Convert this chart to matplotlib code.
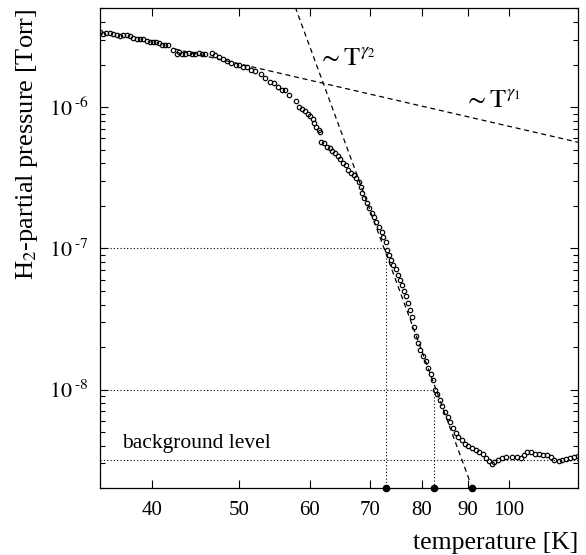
import matplotlib
matplotlib.use("Agg")
import matplotlib.pyplot as plt
from matplotlib.ticker import FixedLocator, NullLocator, LogLocator, NullFormatter

plt.rcParams['font.family'] = ['Liberation Serif', 'DejaVu Serif']
plt.rcParams['mathtext.fontset'] = 'stix'

temperature = [
    35.0, 35.29, 35.59, 35.90, 36.21, 36.52, 36.84, 37.15, 37.47, 37.80,
    38.12, 38.45, 38.78, 39.12, 39.45, 39.80, 40.13, 40.47, 40.76, 41.04,
    41.39, 41.68, 42.25, 42.61, 42.91, 43.21, 43.58, 43.95, 44.33, 44.71,
    45.09, 45.49, 45.88,
    46.68, 47.08, 47.57, 48.06, 48.47, 49.06, 49.65, 50.08, 50.60, 51.03,
    51.65, 52.18, 52.90, 53.45, 54.19, 54.75, 55.32, 55.89, 56.37, 56.95,
    57.94, 58.43,
    58.84, 59.23, 59.65, 60.06, 60.46, 60.68, 61.00, 61.40, 61.63, 61.83,
    62.27, 62.68, 63.12, 63.56, 63.98, 64.43, 64.88, 65.31, 65.77, 66.23,
    66.67, 67.14, 67.61, 68.07, 68.42,
    68.54, 69.01, 69.48, 69.84, 70.32, 70.69, 71.18, 71.66, 72.16, 72.40,
    72.90, 73.15, 73.53, 73.91, 74.29, 74.80, 75.19, 75.57, 75.96, 76.36,
    76.76, 77.15, 77.55, 77.95,
    78.49, 78.90, 79.30, 79.71, 80.25, 80.81, 81.37, 81.92, 82.34, 82.77,
    83.19, 83.77, 84.35, 84.92, 85.51, 86.11, 86.69, 87.29, 87.90, 88.64,
    89.40, 90.19, 91.12, 92.06, 92.68,
    93.63, 94.45, 95.08, 95.74, 96.41, 97.41, 98.42, 99.43, 100.8, 102.2,
    103.1, 104.0, 104.7, 105.8, 106.9, 108.0, 109.1, 110.4, 111.4, 112.5,
    113.7, 114.8, 116.0, 117.2, 118.4, 119.4,
]
pressure = [
    3.38e-6, 3.31e-6, 3.35e-6, 3.35e-6, 3.31e-6, 3.24e-6, 3.17e-6, 3.24e-6, 3.24e-6, 3.17e-6,
    3.07e-6, 3.03e-6, 3.03e-6, 3.03e-6, 2.94e-6, 2.90e-6, 2.90e-6, 2.90e-6, 2.84e-6, 2.75e-6,
    2.75e-6, 2.75e-6, 2.55e-6, 2.36e-6, 2.47e-6, 2.36e-6, 2.39e-6, 2.42e-6, 2.36e-6, 2.39e-6,
    2.42e-6, 2.36e-6, 2.36e-6,
    2.43e-6, 2.32e-6, 2.25e-6, 2.18e-6, 2.13e-6, 2.04e-6, 2.00e-6, 2.00e-6, 1.93e-6, 1.91e-6,
    1.83e-6, 1.81e-6, 1.71e-6, 1.61e-6, 1.50e-6, 1.47e-6, 1.39e-6, 1.31e-6, 1.32e-6, 1.21e-6,
    1.11e-6, 1.005e-6,
    9.68e-7, 9.37e-7, 8.86e-7, 8.68e-7, 8.22e-7, 7.70e-7, 7.21e-7, 6.90e-7, 6.61e-7, 5.67e-7,
    5.55e-7, 5.25e-7, 5.09e-7, 4.92e-7, 4.72e-7, 4.52e-7, 4.32e-7, 4.05e-7, 3.88e-7, 3.59e-7,
    3.40e-7, 3.29e-7, 3.15e-7, 2.95e-7, 2.735e-7,
    2.455e-7, 2.274e-7, 2.086e-7, 1.931e-7, 1.789e-7, 1.675e-7, 1.536e-7, 1.422e-7, 1.305e-7, 1.209e-7,
    1.108e-7, 9.73e-8, 8.92e-8, 8.26e-8, 7.65e-8, 7.10e-8, 6.43e-8, 5.96e-8, 5.47e-8, 5.00e-8,
    4.59e-8, 4.09e-8, 3.65e-8, 3.26e-8,
    2.77e-8, 2.39e-8, 2.13e-8, 1.92e-8, 1.74e-8, 1.58e-8, 1.43e-8, 1.28e-8, 1.16e-8, 1.00e-8,
    9.26e-9, 8.39e-9, 7.70e-9, 6.98e-9, 6.39e-9, 5.86e-9, 5.38e-9, 4.92e-9, 4.61e-9, 4.37e-9,
    4.14e-9, 4.01e-9, 3.88e-9, 3.76e-9, 3.63e-9,
    3.48e-9, 3.29e-9, 3.12e-9, 2.99e-9, 3.09e-9, 3.15e-9, 3.26e-9, 3.33e-9, 3.33e-9, 3.33e-9,
    3.26e-9, 3.44e-9, 3.59e-9, 3.59e-9, 3.52e-9, 3.52e-9, 3.44e-9, 3.44e-9, 3.33e-9, 3.15e-9,
    3.12e-9, 3.19e-9, 3.22e-9, 3.26e-9, 3.33e-9, 3.37e-9,
]

# power-law guide lines (end points)
gamma1_T = [42.4, 120.0]
gamma1_p = [2.58e-6, 5.6e-7]
gamma2_T = [57.8, 90.7]
gamma2_p = [5.1e-6, 2.16e-9]

# reference levels
level_p = [1e-7, 1e-8]
level_T = [72.9, 82.6]
extrap_T = 91.0
background = 3.15e-9

xticks = [40, 50, 60, 70, 80, 90, 100]
ymajor = [1e-8, 1e-7, 1e-6]
ylabels = [r'$10^{\;\text{-}8}$', r'$10^{\;\text{-}7}$', r'$10^{\;\text{-}6}$']

xmin, xmax = 35, 119.5
ymin, ymax = 2e-9, 5e-6

fig = plt.figure(figsize=(5.86, 5.55), dpi=100)
ax = fig.add_axes([0.1706, 0.1202, 0.8157, 0.8648])
ax.set_xscale('log')
ax.set_yscale('log')
ax.set_xlim(xmin, xmax)
ax.set_ylim(ymin, ymax)

dot = (0, (1, 2))
for p, t in zip(level_p, level_T):
    ax.plot([xmin, t], [p, p], color='k', lw=0.8, ls=dot)
    ax.plot([t, t], [p, ymin], color='k', lw=0.8, ls=dot)
ax.plot([xmin, xmax], [background, background], color='k', lw=0.8, ls=dot)

ax.plot(gamma1_T, gamma1_p, color='k', lw=0.9, ls=(0, (4, 3)))
ax.plot(gamma2_T, gamma2_p, color='k', lw=0.9, ls=(0, (4, 3)))

ax.plot(temperature, pressure, 'o', ms=3.2, mfc='none', mec='k', mew=0.85)

ax.plot(level_T + [extrap_T], [ymin] * 3, 'o', color='k', ms=4.5, clip_on=False, zorder=5)

ax.text(61.3, 2.0e-6, r'$\sim\mathrm{T}^{\gamma_2}$', fontsize=19, va='baseline')
ax.text(89.1, 1.0e-6, r'$\sim\mathrm{T}^{\gamma_1}$', fontsize=19, va='baseline')
ax.text(37.06, 3.84e-9, 'background level', fontsize=15.5, va='baseline')

ax.xaxis.set_major_locator(FixedLocator(xticks))
ax.xaxis.set_minor_locator(NullLocator())
ax.set_xticklabels([str(v) for v in xticks])
ax.yaxis.set_major_locator(FixedLocator(ymajor))
ax.set_yticklabels(ylabels)
ax.yaxis.set_minor_locator(LogLocator(base=10, subs=range(2, 10)))
ax.yaxis.set_minor_formatter(NullFormatter())

ax.tick_params(which='both', direction='in', top=True, right=True, labelsize=15, width=0.8)
ax.tick_params(which='major', length=5.5)
ax.tick_params(which='minor', length=3.5)
ax.tick_params(axis='x', pad=9)
ax.tick_params(axis='y', pad=8, labelsize=16)
for s in ax.spines.values():
    s.set_linewidth(0.9)

ax.set_xlabel('temperature [K]', fontsize=18.5, loc='right', labelpad=9)
ax.set_ylabel(r'H$_2$-partial pressure [Torr]', fontsize=19, loc='top', labelpad=6)

fig.savefig('out.png', dpi=100)
